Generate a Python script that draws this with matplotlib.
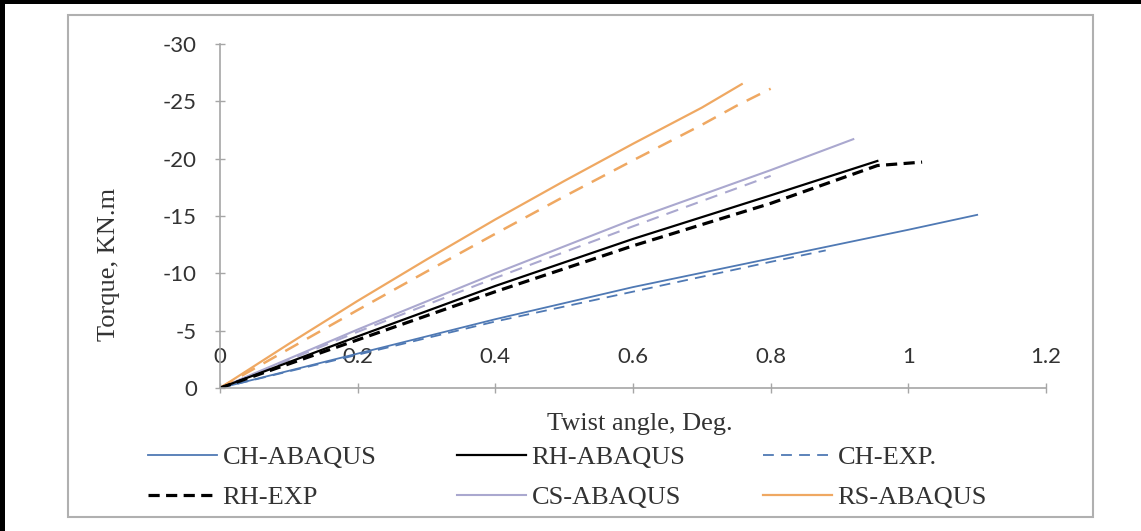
import matplotlib
matplotlib.use("Agg")
import matplotlib.pyplot as plt
from matplotlib.patches import Rectangle
from matplotlib.lines import Line2D

plt.rcParams["axes.unicode_minus"] = False

# Torque vs twist angle for each specimen (numerical and experimental)
ch_abaqus_x = [0, 0.2, 0.4, 0.6, 0.8, 1.0, 1.1]
ch_abaqus_y = [0, -3.0, -6.0, -8.8, -11.3, -13.8, -15.1]

ch_exp_x = [0, 0.2, 0.4, 0.6, 0.8, 0.88]
ch_exp_y = [0, -2.9, -5.8, -8.4, -11.0, -12.0]

rh_abaqus_x = [0, 0.2, 0.4, 0.6, 0.8, 0.955]
rh_abaqus_y = [0, -4.5, -8.9, -13.0, -16.8, -19.8]

rh_exp_x = [0, 0.2, 0.4, 0.6, 0.8, 0.955, 1.02]
rh_exp_y = [0, -4.2, -8.4, -12.4, -16.1, -19.4, -19.7]

cs_abaqus_x = [0, 0.2, 0.4, 0.6, 0.8, 0.92]
cs_abaqus_y = [0, -5.1, -10.0, -14.7, -19.0, -21.7]

cs_exp_x = [0, 0.2, 0.4, 0.6, 0.8]
cs_exp_y = [0, -4.9, -9.6, -14.1, -18.5]

rs_abaqus_x = [0, 0.1, 0.2, 0.3, 0.4, 0.5, 0.6, 0.7, 0.758]
rs_abaqus_y = [0, -3.85, -7.6, -11.2, -14.7, -18.05, -21.3, -24.45, -26.5]

rs_exp_x = [0, 0.1, 0.2, 0.3, 0.4, 0.5, 0.6, 0.7, 0.75, 0.8]
rs_exp_y = [0, -3.4, -6.8, -10.15, -13.45, -16.7, -19.85, -22.95, -24.6, -26.1]

x_ticks = [0, 0.2, 0.4, 0.6, 0.8, 1.0, 1.2]
x_tick_labels = ["0", "0.2", "0.4", "0.6", "0.8", "1", "1.2"]
y_ticks = [0, -5, -10, -15, -20, -25, -30]

BLUE = "#4f79b4"
LAVENDER = "#aaa8cf"
ORANGE = "#efa862"
AXIS_GRAY = "#a6a6a6"
SERIF = "Liberation Serif"

W, H = 1141, 531
fig = plt.figure(figsize=(W / 100, H / 100), dpi=100)
ax = fig.add_axes([220 / W, 1 - 388 / H, (1046 - 220) / W, (388 - 44) / H])

ax.plot(ch_abaqus_x, ch_abaqus_y, color=BLUE, lw=1.3)
ax.plot(ch_exp_x, ch_exp_y, color=BLUE, lw=1.3, linestyle=(0, (6, 4)))
ax.plot(cs_abaqus_x, cs_abaqus_y, color=LAVENDER, lw=1.5)
ax.plot(cs_exp_x, cs_exp_y, color=LAVENDER, lw=1.5, linestyle=(0, (6, 4)))
ax.plot(rs_abaqus_x, rs_abaqus_y, color=ORANGE, lw=1.6)
ax.plot(rs_exp_x, rs_exp_y, color=ORANGE, lw=1.8, linestyle=(0, (6, 4)))
ax.plot(rh_abaqus_x, rh_abaqus_y, color="black", lw=1.6)
ax.plot(rh_exp_x, rh_exp_y, color="black", lw=2.3, linestyle=(0, (3.5, 2)))

ax.set_xlim(0, 1.2)
ax.set_ylim(0, -30)
ax.set_xticks(x_ticks)
ax.set_xticklabels(x_tick_labels)
ax.set_yticks(y_ticks)
for s in ["top", "right"]:
    ax.spines[s].set_visible(False)
for s in ["left", "bottom"]:
    ax.spines[s].set_color(AXIS_GRAY)
    ax.spines[s].set_linewidth(1.2)
ax.tick_params(axis="both", direction="inout", length=7, width=1, color=AXIS_GRAY,
               labelsize=16, labelcolor="#333333")
ax.tick_params(axis="y", pad=13)
# x labels sit above the axis line
ax.tick_params(axis="x", pad=-33)
for lbl in ax.get_xticklabels() + ax.get_yticklabels():
    lbl.set_family("Lato")

fig.text(109 / W, 1 - 264 / H, "Torque, KN.m", rotation=90, ha="center", va="center",
         fontsize=19, family=SERIF, color="#333333")
fig.text(640 / W, 1 - 424 / H, "Twist angle, Deg.", ha="center", va="center",
         fontsize=19, family=SERIF, color="#333333")

# three legend columns with fixed starting positions
entries = [
    [("CH-ABAQUS", BLUE, "-", 1.3), ("RH-EXP", "black", (0, (3.5, 2)), 2.3)],
    [("RH-ABAQUS", "black", "-", 1.6), ("CS-ABAQUS", LAVENDER, "-", 1.5)],
    [("CH-EXP.", BLUE, (0, (6, 4)), 1.3), ("RS-ABAQUS", ORANGE, "-", 1.6)],
]
col_x = [148, 457, 763]
for xpos, col in zip(col_x, entries):
    handles = [Line2D([], [], color=c, linestyle=ls, lw=lw) for _, c, ls, lw in col]
    labels = [name for name, _, _, _ in col]
    leg = fig.legend(handles, labels, loc="center left", bbox_to_anchor=(xpos / W, 1 - 477.5 / H),
                     frameon=False, borderpad=0, borderaxespad=0, handlelength=2.6,
                     handletextpad=0.23, labelspacing=0.64,
                     prop={"family": SERIF, "size": 19})
    for t in leg.get_texts():
        t.set_color("#333333")

# chart frame and outer border
fig.patches.append(Rectangle((68 / W, 1 - 517 / H), (1093 - 68) / W, (517 - 15) / H,
                             transform=fig.transFigure, fill=False, edgecolor="#b0b0b0", lw=1.5))
fig.patches.append(Rectangle((0, 1 - 4 / H), 1, 4 / H, transform=fig.transFigure,
                             color="black", lw=0))
fig.patches.append(Rectangle((0, 0), 5 / W, 1, transform=fig.transFigure,
                             color="black", lw=0))

fig.savefig("out.png", dpi=100)
